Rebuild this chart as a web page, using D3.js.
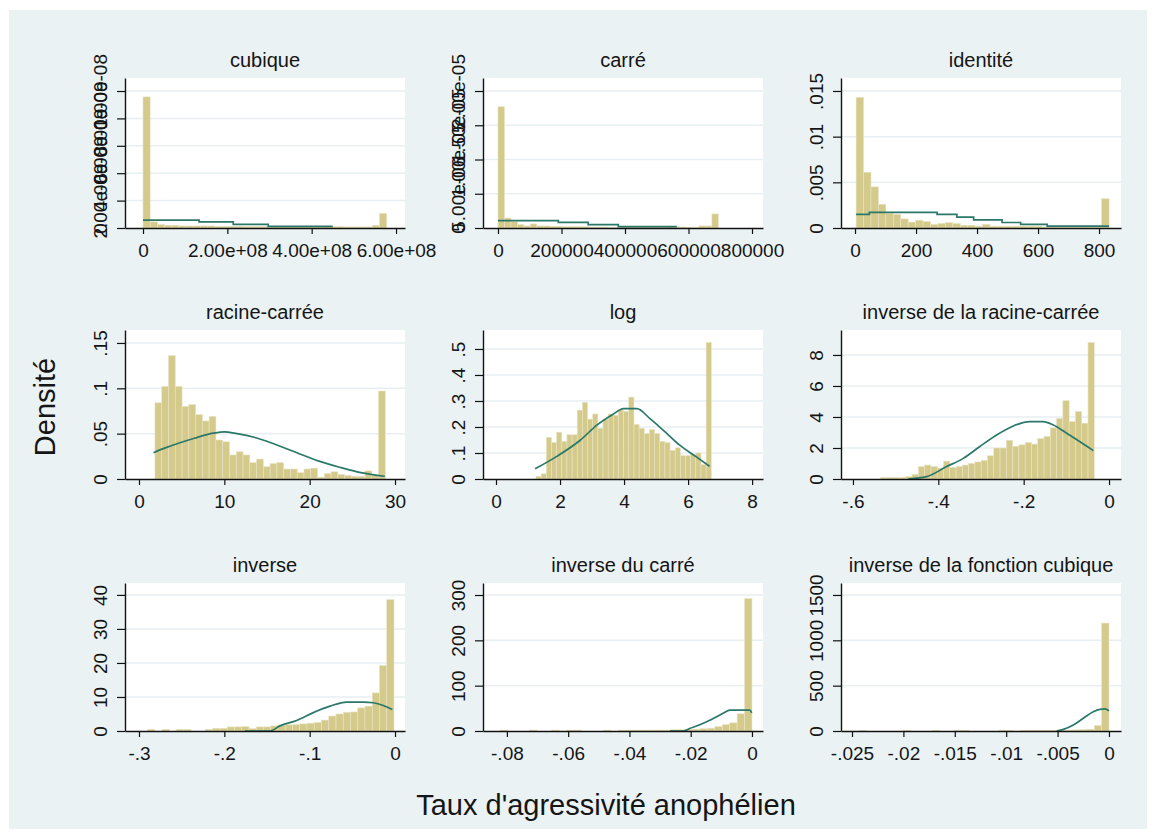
<!DOCTYPE html>
<html>
<head>
<meta charset="utf-8">
<script src="https://cdn.jsdelivr.net/npm/d3@7"></script>
<style>
  body { margin: 0; background: #fff; }
  svg { display: block; }
  text { font-family: "Liberation Sans", Arial, sans-serif; fill: #151515; }
</style>
</head>
<body>
<div id="chart"></div>
<script>
var width = 1156
var height = 836

var titles = ["cubique", "carré", "identité", "racine-carrée", "log", "inverse de la racine-carrée",
              "inverse", "inverse du carré", "inverse de la fonction cubique"]

// transformed data range of each histogram (34 bins)
var cubiqueRange = [43, 5.78e8]
var carreRange = [12, 694000]
var identiteRange = [3.5, 833]
var racineRange = [1.87, 28.86]
var logRange = [1.25, 6.725]
var invRacineRange = [-0.535, -0.0346]
var inverseRange = [-0.29, -0.0012]
var invCarreRange = [-0.0823, 0]
var invCubiqueRange = [-0.0243, 0]

// densities (cubique in 1e-9, carré in 1e-6)
var cubiqueDens = [9.57, .45, .25, .2, .2, .15, .15, .15, .15, .15, .12, .12, .12, .12, .1, .1, .1, .1,
                   .08, .08, .08, .08, .08, .08, .08, .1, .1, .1, .08, .08, .08, .08, .2, 1.07]
var carreDens = [17.7, 1.46, .93, .5, .3, .6, .3, .3, .25, .25, .2, .2, .2, .2, .15, .15, .15, .1,
                 .1, .1, .1, .1, .1, .1, .1, .1, .2, .2, .15, .1, .1, .3, .3, 2.05]
var identiteDens = [.0143, .0061, .0045, .0026, .0016, .0015, .001, .00065, .00085, .0007, .0004, .0005,
                    .0006, .0005, .0003, .0003, .0002, .0004, .0002, .0002, .0002, .0002, .0002, .0002,
                    .0002, .0001, .0001, .0001, .0001, .0001, .0001, .0001, .0001, .0032]
var racineDens = [.084, .102, .136, .102, .080, .082, .071, .064, .069, .043, .041, .0265, .030, .0265,
                  .018, .022, .0135, .017, .018, .011, .011, .007, .011, .012, .002, .006, .008, .005,
                  .004, .003, .003, .009, .004, .097]
var logDens = [.01, .02, .16, .14, .18, .145, .17, .17, .265, .295, .23, .25, .195, .23, .25, .245, .265,
               .26, .315, .21, .195, .175, .19, .175, .145, .14, .11, .12, .09, .09, .095, .10, .055, .525]
var invRacineDens = [.1, .1, .1, .1, .15, .3, .8, .9, .8, .7, 1.15, .75, .8, .9, 1.0, 1.1, 1.2, 1.5,
                     2.0, 2.0, 2.5, 2.1, 2.2, 2.35, 2.25, 2.6, 2.75, 3.3, 3.9, 5.05, 3.7, 4.35, 3.6, 8.8]
var inverseDens = [.5, 0, .5, 0, .5, .5, 0, 0, .5, .8, .8, 1.2, 1.2, 1.3, .7, 1.2, 1.2, 1.5, 1.7, 1.8,
                   1.9, 2.1, 2.3, 2.5, 3.2, 4.4, 5.0, 5.5, 5.6, 6.8, 7.3, 11.2, 19.2, 38.6]
var invCarreDens = [2, 0, 0, 0, 2, 0, 0, 2, 0, 2, 2, 0, 0, 0, 2, 0, 2, 2, 2, 2, 2, 2, 2, 3, 3, 4, 4, 5,
                    6, 10, 14, 18, 38, 292]
var invCubiqueDens = [8, 0, 0, 0, 0, 0, 8, 0, 0, 0, 8, 0, 0, 8, 8, 0, 0, 0, 0, 8, 8, 0, 8, 8, 8, 8, 8,
                      10, 10, 12, 15, 20, 60, 1190]

// normal density overlays
var cubiqueCurveX = [43, 1.33e8, 2.14e8, 2.97e8, 4.5e8]
var cubiqueCurveY = [.57, .45, .27, .12, .12]
var carreCurveX = [12, 190000, 284000, 379000, 563000]
var carreCurveY = [1.07, .83, .49, .2, .2]
var identiteCurveX = [3.5, 47, 269, 334, 389, 482, 543, 630, 833]
var identiteCurveY = [.0015, .0017, .0015, .0012, .0009, .0006, .0004, .0002, .0002]
var racineCurveX = [1.7, 3, 4.8, 6.5, 8.7, 10, 11.5, 13.5, 16, 18.5, 21, 23.5, 26, 28.8]
var racineCurveY = [.029, .034, .040, .045, .0505, .052, .050, .046, .038, .029, .020, .013, .007, .003]
var logCurveX = [1.22, 1.90, 2.63, 3.15, 3.67, 3.98, 4.40, 4.81, 5.23, 5.75, 6.27, 6.67]
var logCurveY = [.039, .087, .149, .207, .25, .271, .271, .232, .187, .129, .084, .049]
var invRacineCurveX = [-.4705, -.4275, -.3806, -.3416, -.3025, -.2634, -.2243, -.1852, -.154, -.1306, -.0993, -.068, -.0368]
var invRacineCurveY = [0, .15, .8, 1.33, 2.1, 2.84, 3.42, 3.7, 3.7, 3.48, 2.95, 2.4, 1.83]
var inverseCurveX = [-.1758, -.1465, -.1348, -.1153, -.0958, -.0762, -.0567, -.0371, -.0254, -.0137, -.0031]
var inverseCurveY = [0, 0, 1.5, 3.1, 5.4, 7.3, 8.5, 8.5, 8.3, 7.5, 6.3]
var invCarreCurveX = [-.0268, -.0224, -.0202, -.0181, -.0148, -.0115, -.0094, -.0072, -.0039, -.0007, -.0001]
var invCarreCurveY = [0, 0, 6, 11, 20.6, 31.6, 39, 46, 46, 46, 40]
var invCubiqueCurveX = [-.00509, -.00444, -.00347, -.0025, -.00153, -.00088, -.00039, 0]
var invCubiqueCurveY = [0, 18, 66, 140, 213, 239, 243, 224]

// tick values and labels
var cubiqueXTicks = [0, 2e8, 4e8, 6e8]
var cubiqueXLabels = ["0", "2.00e+08", "4.00e+08", "6.00e+08"]
var cubiqueYTicks = [0, 2, 4, 6, 8, 10]
var cubiqueYLabels = ["0", "2.00e-09", "4.00e-09", "6.00e-09", "8.00e-09", "1.00e-08"]
var carreXTicks = [0, 200000, 400000, 600000, 800000]
var carreXLabels = ["0", "200000", "400000", "600000", "800000"]
var carreYTicks = [0, 5, 10, 15, 20]
var carreYLabels = ["0", "5.00e-06", "1.00e-05", "1.50e-05", "2.00e-05"]
var identiteXTicks = [0, 200, 400, 600, 800]
var identiteXLabels = ["0", "200", "400", "600", "800"]
var identiteYTicks = [0, .005, .01, .015]
var identiteYLabels = ["0", ".005", ".01", ".015"]
var racineXTicks = [0, 10, 20, 30]
var racineXLabels = ["0", "10", "20", "30"]
var racineYTicks = [0, .05, .1, .15]
var racineYLabels = ["0", ".05", ".1", ".15"]
var logXTicks = [0, 2, 4, 6, 8]
var logXLabels = ["0", "2", "4", "6", "8"]
var logYTicks = [0, .1, .2, .3, .4, .5]
var logYLabels = ["0", ".1", ".2", ".3", ".4", ".5"]
var invRacineXTicks = [-.6, -.4, -.2, 0]
var invRacineXLabels = ["-.6", "-.4", "-.2", "0"]
var invRacineYTicks = [0, 2, 4, 6, 8]
var invRacineYLabels = ["0", "2", "4", "6", "8"]
var inverseXTicks = [-.3, -.2, -.1, 0]
var inverseXLabels = ["-.3", "-.2", "-.1", "0"]
var inverseYTicks = [0, 10, 20, 30, 40]
var inverseYLabels = ["0", "10", "20", "30", "40"]
var invCarreXTicks = [-.08, -.06, -.04, -.02, 0]
var invCarreXLabels = ["-.08", "-.06", "-.04", "-.02", "0"]
var invCarreYTicks = [0, 100, 200, 300]
var invCarreYLabels = ["0", "100", "200", "300"]
var invCubiqueXTicks = [-.025, -.02, -.015, -.01, -.005, 0]
var invCubiqueXLabels = ["-.025", "-.02", "-.015", "-.01", "-.005", "0"]
var invCubiqueYTicks = [0, 500, 1000, 1500]
var invCubiqueYLabels = ["0", "500", "1000", "1500"]

var panels = [
  {range: cubiqueRange, dens: cubiqueDens, cx: cubiqueCurveX, cy: cubiqueCurveY, step: true,
   xt: cubiqueXTicks, xl: cubiqueXLabels, yt: cubiqueYTicks, yl: cubiqueYLabels, xDomain: [-4.27e7, 6.213e8], yTop: 10.95},
  {range: carreRange, dens: carreDens, cx: carreCurveX, cy: carreCurveY, step: true,
   xt: carreXTicks, xl: carreXLabels, yt: carreYTicks, yl: carreYLabels, xDomain: [-47200, 834600], yTop: 21.9},
  {range: identiteRange, dens: identiteDens, cx: identiteCurveX, cy: identiteCurveY, step: true,
   xt: identiteXTicks, xl: identiteXLabels, yt: identiteYTicks, yl: identiteYLabels, xDomain: [-46, 872], yTop: .01642},
  {range: racineRange, dens: racineDens, cx: racineCurveX, cy: racineCurveY,
   xt: racineXTicks, xl: racineXLabels, yt: racineYTicks, yl: racineYLabels, xDomain: [-1.64, 31.17], yTop: .1643},
  {range: logRange, dens: logDens, cx: logCurveX, cy: logCurveY,
   xt: logXTicks, xl: logXLabels, yt: logYTicks, yl: logYLabels, xDomain: [-.406, 8.34], yTop: .573},
  {range: invRacineRange, dens: invRacineDens, cx: invRacineCurveX, cy: invRacineCurveY,
   xt: invRacineXTicks, xl: invRacineXLabels, yt: invRacineYTicks, yl: invRacineYLabels, xDomain: [-.628, .028], yTop: 9.61},
  {range: inverseRange, dens: inverseDens, cx: inverseCurveX, cy: inverseCurveY,
   xt: inverseXTicks, xl: inverseXLabels, yt: inverseYTicks, yl: inverseYLabels, xDomain: [-.3164, .0117], yTop: 43.5},
  {range: invCarreRange, dens: invCarreDens, cx: invCarreCurveX, cy: invCarreCurveY,
   xt: invCarreXTicks, xl: invCarreXLabels, yt: invCarreYTicks, yl: invCarreYLabels, xDomain: [-.0878, .0036], yTop: 326.5},
  {range: invCubiqueRange, dens: invCubiqueDens, cx: invCubiqueCurveX, cy: invCubiqueCurveY,
   xt: invCubiqueXTicks, xl: invCubiqueXLabels, yt: invCubiqueYTicks, yl: invCubiqueYLabels, xDomain: [-.02607, .00117], yTop: 1632}
]

var svg = d3.select("#chart").append("svg").attr("width", width).attr("height", height)
svg.append("rect").attr("x", 9).attr("y", 10).attr("width", 1138).attr("height", 819).attr("fill", "#eaf2f3")

var colLeft = [125, 483, 841]
var plotW = 280
var rowTop = [78, 330, 583]
var rowBottom = [228, 479, 731]

panels.forEach(function(p, i) {
    var left = colLeft[i % 3]
    var top = rowTop[Math.floor(i / 3)]
    var bottom = rowBottom[Math.floor(i / 3)]
    var x = d3.scaleLinear().domain(p.xDomain).range([left, left + plotW])
    var y = d3.scaleLinear().domain([0, p.yTop]).range([bottom, top])
    var g = svg.append("g")

    g.append("rect").attr("x", left).attr("y", top).attr("width", plotW).attr("height", bottom - top).attr("fill", "#fff")

    g.selectAll(".grid").data(p.yt.filter(d => d > 0)).enter().append("line")
        .attr("x1", left).attr("x2", left + plotW)
        .attr("y1", d => y(d)).attr("y2", d => y(d))
        .attr("stroke", "#e7eff2").attr("stroke-width", 1.5)

    // bins keep their own index so empty ones can be skipped
    var bw = (p.range[1] - p.range[0]) / p.dens.length
    var bins = p.dens.map((d, j) => ({x0: p.range[0] + j * bw, x1: p.range[0] + (j + 1) * bw, v: d}))
        .filter(b => b.v > 0)
    g.selectAll(".bar").data(bins).enter().append("rect")
        .attr("x", b => x(b.x0))
        .attr("width", b => x(b.x1) - x(b.x0))
        .attr("y", b => y(b.v))
        .attr("height", b => y(0) - y(b.v))
        .attr("fill", "#d4ca8c")
        .attr("stroke", "#e9e3c3")
        .attr("stroke-width", 0.6)

    var line = d3.line().x(d => x(d[0])).y(d => y(d[1]))
        .curve(p.step ? d3.curveStepAfter : d3.curveMonotoneX)
    g.append("path").datum(d3.zip(p.cx, p.cy))
        .attr("d", line).attr("fill", "none")
        .attr("stroke", "#2b7869").attr("stroke-width", 1.7)

    var xAxis = g.append("g").attr("transform", "translate(0," + bottom + ")")
        .call(d3.axisBottom(x).tickValues(p.xt).tickFormat((d, j) => p.xl[j]).tickSize(6).tickSizeOuter(0).tickPadding(10))
    xAxis.selectAll("text").style("font-size", "19px")

    var yAxis = g.append("g").attr("transform", "translate(" + left + ",0)")
        .call(d3.axisLeft(y).tickValues(p.yt).tickFormat((d, j) => p.yl[j]).tickSize(8).tickSizeOuter(0))
    yAxis.selectAll("text")
        .attr("x", null).attr("dy", null)
        .attr("text-anchor", "middle")
        .attr("transform", "translate(-18,0) rotate(-90)")
        .style("font-size", "19px")

    g.selectAll(".domain").attr("stroke", "#111").attr("stroke-width", 1.4)
    g.selectAll(".tick line").attr("stroke", "#111").attr("stroke-width", 1.2)
    g.selectAll(".tick text").attr("fill", "#151515")

    g.append("text")
        .attr("x", left + plotW / 2).attr("y", top - 11)
        .attr("text-anchor", "middle")
        .style("font-size", "20px")
        .text(titles[i])
})

svg.append("text")
    .attr("transform", "translate(55,407) rotate(-90)")
    .attr("text-anchor", "middle")
    .style("font-size", "29px")
    .text("Densité")

svg.append("text")
    .attr("x", 606).attr("y", 815)
    .attr("text-anchor", "middle")
    .style("font-size", "29px")
    .text("Taux d'agressivité anophélien")
</script>
</body>
</html>
